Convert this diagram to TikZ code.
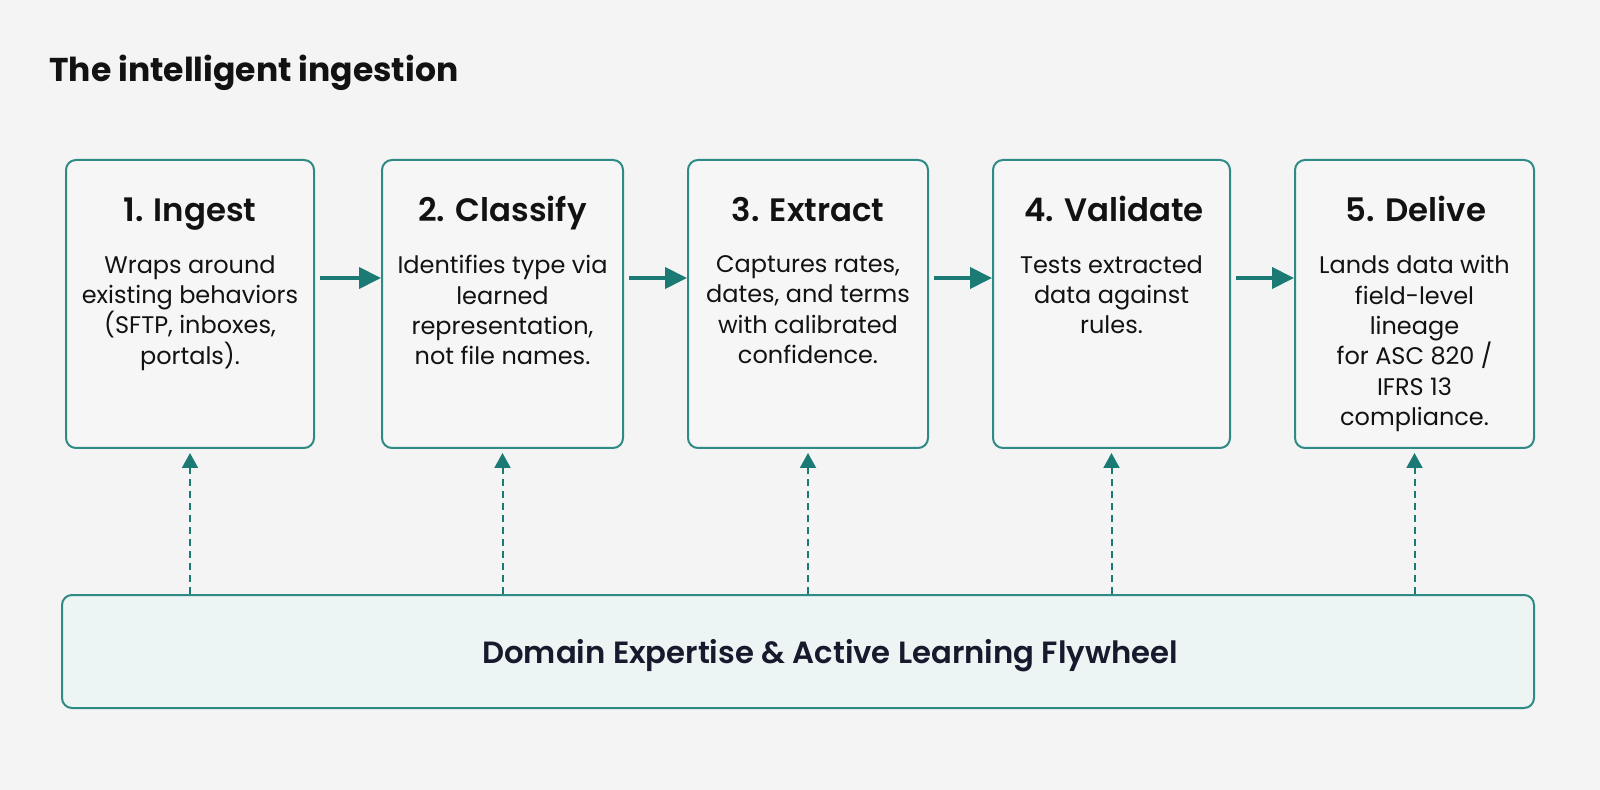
\documentclass[tikz,border=0pt]{standalone}
\usepackage{fontspec}
\setmainfont{Poppins}
\newfontfamily\popsemi{Poppins}[UprightFont=* SemiBold]
\usetikzlibrary{arrows.meta}
\definecolor{bgc}{HTML}{F4F4F4}
\definecolor{tealb}{HTML}{2E8A83}
\definecolor{teala}{HTML}{1B7B74}
\definecolor{boxfill}{HTML}{F6F6F6}
\definecolor{flyfill}{HTML}{EDF5F4}
\definecolor{inkc}{HTML}{121212}
\definecolor{navy}{HTML}{161A2C}
\tikzset{
  stepbox/.style={draw=tealb, line width=1pt, fill=boxfill, rounded corners=5pt, inner sep=0pt},
  headtxt/.style={anchor=base, inner sep=0pt, text=inkc, font=\fontsize{16.2}{20}\selectfont\popsemi},
  bodytxt/.style={anchor=north, inner sep=0pt, align=center, text=inkc, font=\fontsize{12}{15.2}\selectfont},
  flowarrow/.style={draw=teala, line width=2pt, -{Triangle[length=11pt,width=10.5pt]}, shorten <=2.5pt},
  feedarrow/.style={draw=teala, line width=1pt, dash pattern=on 3.5pt off 2.5pt, -{Triangle[length=7.5pt,width=8pt]}, shorten >=2pt},
}
\begin{document}
\begin{tikzpicture}[x=0.5pt,y=-0.5pt]
\fill[bgc] (0,0) rectangle (1600,790);
\useasboundingbox (0,0) rectangle (1600,790);

\node[anchor=base west, inner sep=0pt, text=inkc, font=\fontsize{16.5}{20}\selectfont\bfseries] (title) at (49,82) {The intelligent ingestion};

\node[stepbox, minimum width=124pt, minimum height=144pt] (b1) at (190,304) {};
\node[stepbox, minimum width=120.5pt, minimum height=144pt] (b2) at (502.5,304) {};
\node[stepbox, minimum width=120pt, minimum height=144pt] (b3) at (808,304) {};
\node[stepbox, minimum width=118.5pt, minimum height=144pt] (b4) at (1111.5,304) {};
\node[stepbox, minimum width=119.5pt, minimum height=144pt] (b5) at (1414.5,304) {};

\node[headtxt] (h1) at (190,222) {1. Ingest};
\node[headtxt] (h2) at (502.5,222) {2. Classify};
\node[headtxt] (h3) at (808,222) {3. Extract};
\node[headtxt] (h4) at (1114,222) {4. Validate};
\node[headtxt] (h5) at (1416,222) {5. Delive};

\node[bodytxt] (t1) at (190,255) {Wraps around\\existing behaviors\\(SFTP, inboxes,\\portals).};
\node[bodytxt] (t2) at (502.5,255) {Identifies type via\\learned\\representation,\\not file names.};
\node[bodytxt] (t3) at (808,255) {Captures rates,\\dates, and terms\\with calibrated\\confidence.};
\node[bodytxt] (t4) at (1111.5,255) {Tests extracted\\data against\\rules.};
\node[bodytxt] (t5) at (1414.5,255) {Lands data with\\field-level\\lineage\\for ASC 820 /\\IFRS 13\\compliance.};

\draw[flowarrow] (b1.east |- 0,278) -- (b2.west |- 0,278);
\draw[flowarrow] (b2.east |- 0,278) -- (b3.west |- 0,278);
\draw[flowarrow] (b3.east |- 0,278) -- (b4.west |- 0,278);
\draw[flowarrow] (b4.east |- 0,278) -- (b5.west |- 0,278);

\node[draw=tealb, line width=1pt, fill=flyfill, rounded corners=5pt, inner sep=0pt, minimum width=736pt, minimum height=56.5pt] (fw) at (798,651.5) {};
\node[anchor=base, inner sep=0pt, text=navy, font=\fontsize{15.35}{20}\selectfont\popsemi] (fwt) at (830,663) {Domain Expertise \& Active Learning Flywheel};

\foreach \i in {1,...,5}{
  \draw[feedarrow] (fw.north -| b\i.south) -- (b\i.south);
}
\end{tikzpicture}
\end{document}
